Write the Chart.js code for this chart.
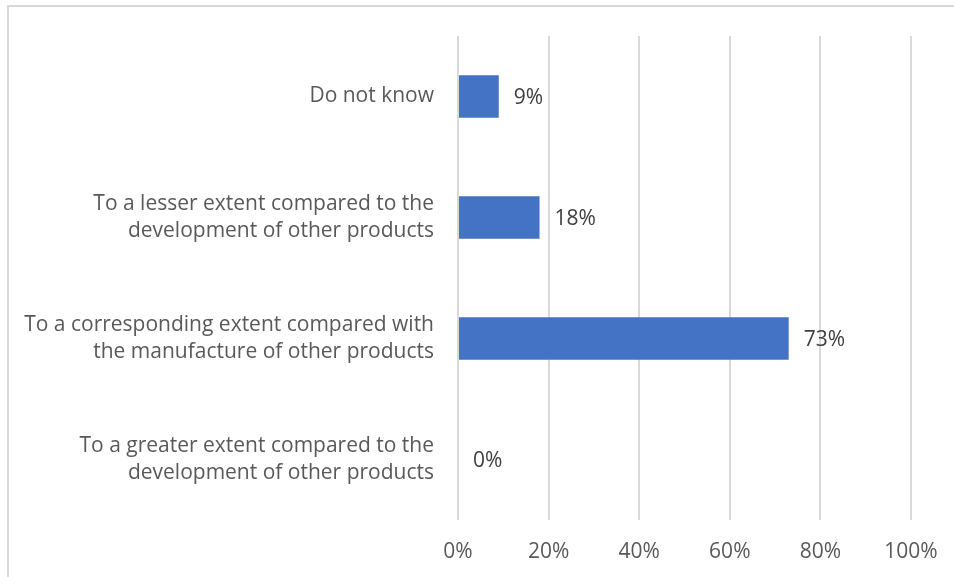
<!DOCTYPE html>
<html>
<head>
<meta charset="utf-8">
<script src="https://cdn.jsdelivr.net/npm/chart.js@4/dist/chart.umd.min.js"></script>
<style>
    html, body { margin: 0; padding: 0; background: #ffffff; }
    #wrap { position: relative; width: 954px; height: 577px; overflow: hidden; }
    #frame {
        position: absolute; left: 7px; top: 5px; width: 1000px; height: 700px;
        border-top: 2px solid #d9d9d9; border-left: 2px solid #d9d9d9;
    }
    canvas { position: absolute; left: 0; top: 0; }
</style>
</head>
<body>
<div id="wrap">
    <div id="frame"></div>
    <canvas id="chart" width="954" height="577"></canvas>
</div>
<script>
// Survey answers, top to bottom as in the picture
const categories = [
    ['Do not know'],
    ['To a lesser extent compared to the', 'development of other products'],
    ['To a corresponding extent compared with', 'the manufacture of other products'],
    ['To a greater extent compared to the', 'development of other products']
];
const shares = [9, 18, 73, 0];
const tickValues = [0, 20, 40, 60, 80, 100];

const FONT = '"Open Sans", "Liberation Sans", sans-serif';

// Percent labels drawn to the right of each bar
const valueLabels = {
    id: 'valueLabels',
    afterDatasetsDraw(chart) {
        const ctx = chart.ctx;
        const meta = chart.getDatasetMeta(0);
        ctx.save();
        ctx.font = '21px ' + FONT;
        ctx.fillStyle = '#404040';
        ctx.textAlign = 'left';
        ctx.textBaseline = 'middle';
        meta.data.forEach((bar, i) => {
            ctx.fillText(shares[i] + '%', bar.x + 15, bar.y + 2);
        });
        ctx.restore();
    }
};

new Chart(document.getElementById('chart'), {
    type: 'bar',
    data: {
        labels: categories,
        datasets: [{
            data: shares,
            backgroundColor: '#4472c4',
            borderWidth: 0,
            categoryPercentage: 1,
            barPercentage: 0.35
        }]
    },
    options: {
        indexAxis: 'y',
        responsive: false,
        animation: false,
        layout: { padding: { top: 36, right: 43, left: 0, bottom: 0 } },
        plugins: {
            legend: { display: false },
            tooltip: { enabled: false }
        },
        scales: {
            x: {
                min: 0,
                max: 100,
                afterBuildTicks(scale) {
                    scale.ticks = tickValues.map(v => ({ value: v }));
                },
                afterFit(scale) {
                    scale.height = 57;
                    scale.paddingLeft = 0;
                    scale.paddingRight = 0;
                },
                grid: { color: '#d9d9d9', lineWidth: 2, drawTicks: false },
                border: { display: false },
                ticks: {
                    padding: 19,
                    color: '#595959',
                    font: { family: FONT, size: 21 },
                    callback: v => v + '%'
                }
            },
            y: {
                afterFit(scale) {
                    scale.width = 458;
                    scale.paddingTop = 0;
                    scale.paddingBottom = 0;
                },
                grid: { display: false, drawTicks: false },
                border: { display: false },
                ticks: {
                    padding: 24,
                    color: '#595959',
                    font: { family: FONT, size: 21, lineHeight: 1.33 }
                }
            }
        }
    },
    plugins: [valueLabels]
});
</script>
</body>
</html>
